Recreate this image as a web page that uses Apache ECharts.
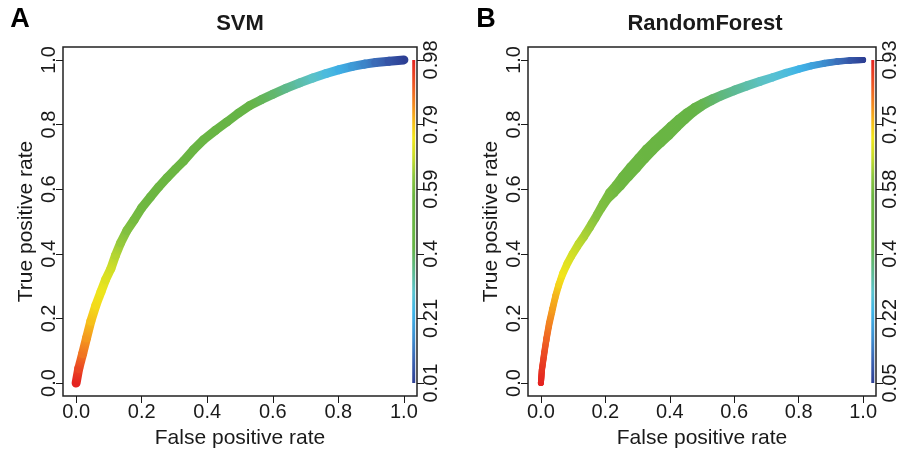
<!DOCTYPE html>
<html><head><meta charset="utf-8">
<script src="https://cdn.jsdelivr.net/npm/echarts@6/dist/echarts.min.js"></script>
<style>html,body{margin:0;padding:0;background:#fff}#c{width:900px;height:454px}</style>
</head><body><div id="c"></div>
<script>
// ---------- data ----------
const axisTicks = [0, 0.2, 0.4, 0.6, 0.8, 1.0];
const axisTickLabels = ['0.0', '0.2', '0.4', '0.6', '0.8', '1.0'];

const panelTitles = ['SVM', 'RandomForest'];
const panelLetters = ['A', 'B'];
const xAxisName = 'False positive rate';
const yAxisName = 'True positive rate';

// SVM ROC (averaged band)
const svmFpr = [0, 0.008, 0.020, 0.032, 0.045, 0.060, 0.076, 0.090, 0.106, 0.120, 0.136, 0.155, 0.177, 0.200, 0.227, 0.252, 0.278, 0.303, 0.328, 0.358, 0.389, 0.425, 0.460, 0.495, 0.530, 0.565, 0.601, 0.640, 0.682, 0.722, 0.763, 0.803, 0.843, 0.880, 0.914, 0.955, 1.0];
const svmTpr = [0, 0.045, 0.091, 0.140, 0.192, 0.240, 0.283, 0.320, 0.354, 0.395, 0.434, 0.472, 0.505, 0.542, 0.576, 0.607, 0.636, 0.662, 0.687, 0.722, 0.753, 0.782, 0.808, 0.835, 0.859, 0.877, 0.894, 0.912, 0.929, 0.944, 0.958, 0.970, 0.980, 0.987, 0.992, 0.996, 1.0];
const svmCutoff = [0.98, 0.93, 0.87, 0.83, 0.79, 0.76, 0.74, 0.72, 0.70, 0.67, 0.64, 0.61, 0.59, 0.58, 0.57, 0.56, 0.55, 0.54, 0.53, 0.51, 0.49, 0.47, 0.45, 0.43, 0.42, 0.40, 0.38, 0.35, 0.32, 0.29, 0.25, 0.21, 0.17, 0.13, 0.09, 0.05, 0.01];
const svmCutoffRange = [0.01, 0.98];
const svmCutoffLabels = ['0.01', '0.21', '0.4', '0.59', '0.79', '0.98'];

// RandomForest ROC (three cross-validation runs)
const rfFpr = [0.000, 0.003, 0.010, 0.017, 0.025, 0.035, 0.045, 0.055, 0.066, 0.080, 0.096, 0.115, 0.136, 0.155, 0.172, 0.190, 0.210, 0.230, 0.250, 0.275, 0.300, 0.325, 0.350, 0.375, 0.400, 0.425, 0.450, 0.475, 0.500, 0.530, 0.560, 0.600, 0.640, 0.680, 0.720, 0.760, 0.800, 0.840, 0.880, 0.920, 0.960, 1.000];
const rfTprRun1 = [0.000, 0.042, 0.094, 0.140, 0.186, 0.230, 0.272, 0.307, 0.340, 0.372, 0.402, 0.434, 0.465, 0.496, 0.525, 0.558, 0.592, 0.615, 0.642, 0.672, 0.700, 0.728, 0.752, 0.775, 0.798, 0.820, 0.840, 0.857, 0.870, 0.884, 0.896, 0.911, 0.925, 0.938, 0.950, 0.963, 0.974, 0.984, 0.991, 0.996, 0.999, 1.000];
const rfTprRun2 = [0.000, 0.040, 0.090, 0.135, 0.180, 0.225, 0.268, 0.303, 0.335, 0.367, 0.397, 0.428, 0.458, 0.489, 0.517, 0.548, 0.580, 0.600, 0.625, 0.655, 0.683, 0.710, 0.735, 0.758, 0.780, 0.804, 0.827, 0.846, 0.861, 0.876, 0.890, 0.906, 0.920, 0.934, 0.947, 0.960, 0.972, 0.982, 0.990, 0.995, 0.998, 1.000];
const rfTprRun3 = [0.000, 0.036, 0.085, 0.130, 0.174, 0.218, 0.262, 0.297, 0.328, 0.360, 0.390, 0.420, 0.450, 0.480, 0.508, 0.538, 0.567, 0.586, 0.607, 0.635, 0.662, 0.690, 0.716, 0.740, 0.763, 0.788, 0.812, 0.834, 0.852, 0.869, 0.884, 0.900, 0.915, 0.929, 0.943, 0.957, 0.969, 0.980, 0.988, 0.994, 0.998, 1.000];
const rfCutoff = [0.93, 0.91, 0.88, 0.85, 0.82, 0.79, 0.77, 0.74, 0.72, 0.70, 0.68, 0.66, 0.64, 0.62, 0.60, 0.59, 0.58, 0.57, 0.56, 0.54, 0.53, 0.52, 0.51, 0.50, 0.48, 0.46, 0.44, 0.42, 0.41, 0.39, 0.37, 0.35, 0.33, 0.31, 0.29, 0.27, 0.24, 0.21, 0.17, 0.13, 0.09, 0.05];
const rfCutoffRange = [0.05, 0.93];
const rfCutoffLabels = ['0.05', '0.22', '0.4', '0.58', '0.75', '0.93'];

// ---------- styling ----------
const FONT = '"Liberation Sans", Arial, Helvetica, sans-serif';
const INK = '#1a1a1a';
const paletteStops = [
  [0.00, '#2d3f94'], [0.07, '#3a63b2'], [0.14, '#3d8fd0'], [0.22, '#3fb5e8'],
  [0.28, '#5bc3cf'], [0.35, '#5eb98a'], [0.42, '#66b446'], [0.58, '#6cb641'],
  [0.64, '#8cc63f'], [0.70, '#c8dc2a'], [0.76, '#f2e61a'], [0.80, '#f6c51a'],
  [0.86, '#f38b1f'], [0.92, '#ee5a24'], [1.00, '#e42320']
];
function hex2rgb(h) { return [1, 3, 5].map(i => parseInt(h.substr(i, 2), 16)); }
function colorAt(t) {
  t = Math.max(0, Math.min(1, t));
  for (let i = 1; i < paletteStops.length; i++) {
    const [t1, c1] = paletteStops[i - 1], [t2, c2] = paletteStops[i];
    if (t <= t2) {
      const f = (t - t1) / (t2 - t1 || 1);
      const a = hex2rgb(c1), b = hex2rgb(c2);
      return 'rgb(' + a.map((v, k) => Math.round(v + (b[k] - v) * f)).join(',') + ')';
    }
  }
  return paletteStops[paletteStops.length - 1][1];
}

const AX_MIN = -0.04, AX_MAX = 1.04;
const COLORBAR_X = 1.03;
const grids = [
  { left: 63, top: 47, width: 354, height: 356 },
  { left: 528, top: 47, width: 354, height: 356 }
];

function curveSeries(gi, fpr, tpr, cut, range, width) {
  const data = [];
  for (let i = 0; i < fpr.length - 1; i++) {
    data.push([fpr[i], tpr[i], cut[i], fpr[i + 1], tpr[i + 1], cut[i + 1]]);
  }
  return {
    type: 'custom', coordinateSystem: 'cartesian2d',
    xAxisIndex: gi, yAxisIndex: gi * 2, silent: true, animation: false, clip: false,
    encode: { x: [0, 3], y: [1, 4] },
    renderItem(params, api) {
      const a = api.coord([api.value(0), api.value(1)]);
      const b = api.coord([api.value(3), api.value(4)]);
      const ca = colorAt((api.value(2) - range[0]) / (range[1] - range[0]));
      const cb = colorAt((api.value(5) - range[0]) / (range[1] - range[0]));
      return {
        type: 'line',
        shape: { x1: a[0], y1: a[1], x2: b[0], y2: b[1] },
        style: {
          stroke: new echarts.graphic.LinearGradient(a[0], a[1], b[0], b[1],
            [{ offset: 0, color: ca }, { offset: 1, color: cb }], true),
          lineWidth: width, lineCap: 'round'
        }
      };
    },
    data
  };
}

function colorbarSeries(gi) {
  return {
    type: 'custom', coordinateSystem: 'cartesian2d',
    xAxisIndex: gi, yAxisIndex: gi * 2, silent: true, animation: false, clip: false,
    encode: { x: 0, y: 1 },
    renderItem(params, api) {
      const bot = api.coord([COLORBAR_X, 0]);
      const top = api.coord([COLORBAR_X, 1]);
      return {
        type: 'line',
        shape: { x1: bot[0], y1: bot[1], x2: top[0], y2: top[1] },
        style: {
          stroke: new echarts.graphic.LinearGradient(bot[0], bot[1], top[0], top[1],
            paletteStops.map(s => ({ offset: s[0], color: s[1] })), true),
          lineWidth: 3, lineCap: 'butt'
        }
      };
    },
    data: [[COLORBAR_X, 0]]
  };
}

function tickLabel(labels) {
  return v => {
    let best = 0;
    axisTicks.forEach((t, i) => { if (Math.abs(t - v) < Math.abs(axisTicks[best] - v)) best = i; });
    return labels[best];
  };
}

const tickStyle = { show: true, length: 7, inside: false, customValues: axisTicks, lineStyle: { color: INK, width: 1 } };
const labelBase = { customValues: axisTicks, fontSize: 20, color: INK, fontFamily: FONT };
const hiddenLine = { show: false, onZero: false };

const xAxes = [], yAxes = [];
const cutLabels = [svmCutoffLabels, rfCutoffLabels];
for (let gi = 0; gi < 2; gi++) {
  xAxes.push({
    type: 'value', gridIndex: gi, min: AX_MIN, max: AX_MAX, position: 'bottom',
    axisLine: hiddenLine, splitLine: { show: false },
    axisTick: tickStyle,
    axisLabel: Object.assign({}, labelBase, { margin: 6, formatter: tickLabel(axisTickLabels) }),
    name: xAxisName, nameLocation: 'middle', nameGap: 32, nameMoveOverlap: false,
    nameTextStyle: { fontSize: 21, color: INK, fontFamily: FONT }
  });
  yAxes.push({
    type: 'value', gridIndex: gi, min: AX_MIN, max: AX_MAX, position: 'left',
    axisLine: hiddenLine, splitLine: { show: false },
    axisTick: tickStyle,
    axisLabel: Object.assign({}, labelBase, { margin: 4, rotate: 90, formatter: tickLabel(axisTickLabels) }),
    name: yAxisName, nameLocation: 'middle', nameGap: 26, nameMoveOverlap: false,
    nameTextStyle: { fontSize: 21, color: INK, fontFamily: FONT }
  });
  yAxes.push({
    type: 'value', gridIndex: gi, min: AX_MIN, max: AX_MAX, position: 'right',
    axisLine: hiddenLine, splitLine: { show: false },
    axisTick: tickStyle,
    axisLabel: Object.assign({}, labelBase, { margin: 4, rotate: 90, formatter: tickLabel(cutLabels[gi]) })
  });
}

const graphics = [];
const letterPos = [[20, 20], [486, 20]];
for (let gi = 0; gi < 2; gi++) {
  const g = grids[gi];
  graphics.push({
    type: 'text', x: g.left + g.width / 2, y: 24, silent: true,
    style: { text: panelTitles[gi], font: 'bold 22px ' + FONT, fill: INK, align: 'center', verticalAlign: 'middle' }
  });
  graphics.push({
    type: 'text', x: letterPos[gi][0], y: letterPos[gi][1], silent: true,
    style: { text: panelLetters[gi], font: 'bold 27px ' + FONT, fill: '#000', align: 'center', verticalAlign: 'middle' }
  });
}

const option = {
  animation: false,
  backgroundColor: '#fff',
  textStyle: { fontFamily: FONT },
  grid: grids.map(g => Object.assign({ show: true, borderColor: '#222', borderWidth: 1.5, backgroundColor: 'transparent', containLabel: false }, g)),
  xAxis: xAxes,
  yAxis: yAxes,
  graphic: graphics,
  series: [
    colorbarSeries(0),
    curveSeries(0, svmFpr, svmTpr, svmCutoff, svmCutoffRange, 9),
    colorbarSeries(1),
    curveSeries(1, rfFpr, rfTprRun3, rfCutoff, rfCutoffRange, 6),
    curveSeries(1, rfFpr, rfTprRun1, rfCutoff, rfCutoffRange, 6),
    curveSeries(1, rfFpr, rfTprRun2, rfCutoff, rfCutoffRange, 6)
  ]
};
const chart = echarts.init(document.getElementById('c'), null, { renderer: 'canvas' });
chart.setOption(option);
</script></body></html>
